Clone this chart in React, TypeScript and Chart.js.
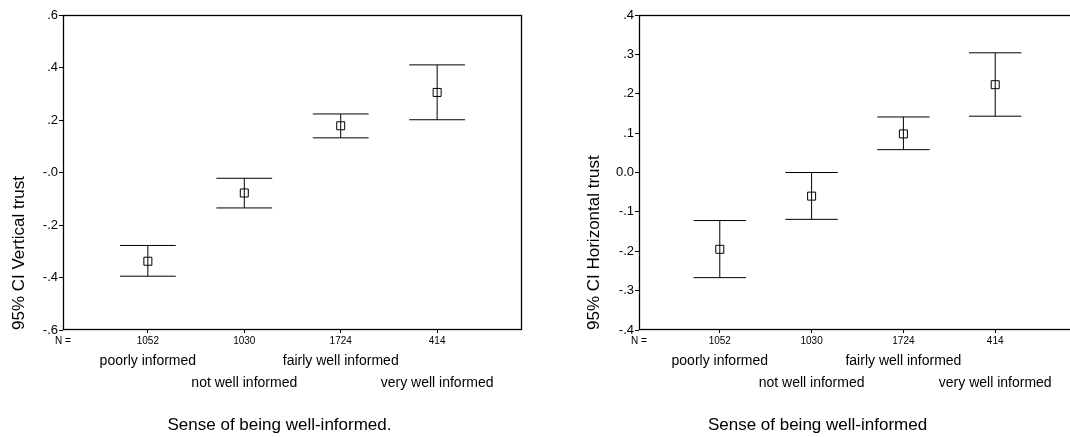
import React, { useEffect, useRef } from "react";
import { Chart, registerables } from "chart.js";

Chart.register(...registerables);

// ---------- data ----------
const categories = ["poorly informed", "not well informed", "fairly well informed", "very well informed"];
const nCounts = [1052, 1030, 1724, 414];
const nLabel = "N =";

const verticalMean = [-0.338, -0.078, 0.178, 0.305];
const verticalUpper = [-0.278, -0.022, 0.223, 0.41];
const verticalLower = [-0.395, -0.135, 0.132, 0.201];
const verticalTicks = [-0.6, -0.4, -0.2, 0, 0.2, 0.4, 0.6];
const verticalTickLabels = ["-.6", "-.4", "-.2", "-.0", ".2", ".4", ".6"];
const verticalYTitle = "95% CI Vertical trust";
const verticalXTitle = "Sense of being well-informed.";

const horizontalMean = [-0.195, -0.06, 0.098, 0.223];
const horizontalUpper = [-0.122, 0.0, 0.141, 0.304];
const horizontalLower = [-0.267, -0.119, 0.058, 0.143];
const horizontalTicks = [-0.4, -0.3, -0.2, -0.1, 0, 0.1, 0.2, 0.3, 0.4];
const horizontalTickLabels = ["-.4", "-.3", "-.2", "-.1", "0.0", ".1", ".2", ".3", ".4"];
const horizontalYTitle = "95% CI Horizontal trust";
const horizontalXTitle = "Sense of being well-informed";

// ---------- styling ----------
const FONT = "'Liberation Sans', Arial, Helvetica, sans-serif";
const X_MIN = -0.88;
const X_MAX = 3.88;

const framePlugin = {
  id: "frame",
  afterDraw(chart: any) {
    const { ctx, chartArea } = chart;
    const { left, top, right, bottom } = chartArea;
    ctx.save();
    ctx.strokeStyle = "#000";
    ctx.lineWidth = 1.3;
    ctx.strokeRect(left + 0.5, top + 0.5, right - left - 1, bottom - top - 1);
    ctx.restore();
  },
};

const captionPlugin = {
  id: "caption",
  afterDraw(chart: any, _args: any, opts: any) {
    const { ctx, chartArea } = chart;
    ctx.save();
    ctx.fillStyle = "#000";
    ctx.font = `17px ${FONT}`;
    ctx.textAlign = "center";
    ctx.textBaseline = "middle";
    ctx.fillText(opts.text, chartArea.left + opts.dx, chartArea.bottom + opts.dy);
    ctx.restore();
  },
};

interface PanelSpec {
  mean: number[];
  upper: number[];
  lower: number[];
  yMin: number;
  yMax: number;
  yTicks: number[];
  yTickLabels: string[];
  yTitle: string;
  xTitle: string;
  capRadius: number;
  yAxisWidth: number;
  padRight: number;
  captionDx: number;
}

const noSidePadding = (s: any) => {
  s.paddingLeft = 0;
  s.paddingRight = 0;
};

function makeConfig(p: PanelSpec): any {
  const whisker: any[] = [];
  const caps: any[] = [];
  const means: any[] = [];
  categories.forEach((_, i) => {
    whisker.push({ x: i, y: p.lower[i] }, { x: i, y: p.upper[i] }, { x: i, y: null });
    caps.push({ x: i, y: p.upper[i] }, { x: i, y: p.lower[i] });
    means.push({ x: i, y: p.mean[i] });
  });

  return {
    type: "scatter",
    data: {
      datasets: [
        {
          type: "scatter",
          data: means,
          pointStyle: "rect",
          pointRadius: 5.66,
          borderColor: "#000",
          backgroundColor: "rgba(0,0,0,0)",
          borderWidth: 1,
          order: 0,
        },
        {
          type: "scatter",
          data: caps,
          pointStyle: "line",
          pointRadius: p.capRadius,
          borderColor: "#000",
          borderWidth: 1,
          order: 1,
        },
        {
          type: "line",
          data: whisker,
          borderColor: "#000",
          borderWidth: 1,
          pointRadius: 0,
          spanGaps: false,
          fill: false,
          order: 2,
        },
      ],
    },
    options: {
      animation: false,
      responsive: false,
      events: [],
      layout: { autoPadding: false, padding: { top: 15, left: 0, right: p.padRight, bottom: 41.2 } },
      plugins: {
        legend: { display: false },
        tooltip: { enabled: false },
        caption: { text: p.xTitle, dx: p.captionDx, dy: 95.7 },
      },
      scales: {
        x: {
          type: "linear",
          position: "bottom",
          min: X_MIN,
          max: X_MAX,
          weight: 0,
          afterBuildTicks: (s: any) => {
            s.ticks = [X_MIN, ...categories.map((_, i) => i)].map((v) => ({ value: v }));
          },
          afterFit: noSidePadding,
          ticks: {
            autoSkip: false,
            maxRotation: 0,
            minRotation: 0,
            padding: 2,
            color: "#000",
            font: { size: 10, family: FONT, lineHeight: 1.2 },
            callback: (_v: any, i: number) => (i === 0 ? nLabel : String(nCounts[i - 1])),
          },
          grid: {
            display: true,
            drawOnChartArea: false,
            drawTicks: true,
            tickLength: 3,
            color: (c: any) => (c.index === 0 ? "rgba(0,0,0,0)" : "#000"),
          },
          border: { display: false },
        },
        x2: {
          type: "linear",
          position: "bottom",
          min: X_MIN,
          max: X_MAX,
          weight: 1,
          afterBuildTicks: (s: any) => {
            s.ticks = categories.map((_, i) => ({ value: i }));
          },
          afterFit: noSidePadding,
          ticks: {
            autoSkip: false,
            maxRotation: 0,
            minRotation: 0,
            padding: 1.6,
            color: "#000",
            font: { size: 14, family: FONT, lineHeight: 1.557 },
            callback: (_v: any, i: number) => (i % 2 === 0 ? [categories[i]] : ["", categories[i]]),
          },
          grid: { display: false, drawTicks: false },
          border: { display: false },
        },
        y: {
          type: "linear",
          position: "left",
          min: p.yMin,
          max: p.yMax,
          afterBuildTicks: (s: any) => {
            s.ticks = p.yTicks.map((v) => ({ value: v }));
          },
          afterFit: (s: any) => {
            s.width = p.yAxisWidth;
            s.paddingTop = 0;
            s.paddingBottom = 0;
          },
          ticks: {
            padding: 1,
            color: "#000",
            font: { size: 13, family: FONT },
            callback: (_v: any, i: number) => p.yTickLabels[i],
          },
          grid: {
            display: true,
            drawOnChartArea: false,
            drawTicks: true,
            tickLength: 4,
            color: "#000",
          },
          border: { display: false },
          title: {
            display: true,
            text: p.yTitle,
            align: "start",
            color: "#000",
            font: { size: 17, family: FONT, lineHeight: 1.2 },
            padding: { top: 8.8, bottom: 0 },
          },
        },
      },
    },
    plugins: [framePlugin, captionPlugin],
  };
}

function Panel({ spec, left, width }: { spec: PanelSpec; left: number; width: number }) {
  const ref = useRef<HTMLCanvasElement | null>(null);
  useEffect(() => {
    if (!ref.current) return;
    const chart = new Chart(ref.current, makeConfig(spec));
    return () => chart.destroy();
  }, [spec]);
  return (
    <canvas
      ref={ref}
      width={width}
      height={437}
      style={{ position: "absolute", left, top: 0, width, height: 437 }}
    />
  );
}

const leftSpec: PanelSpec = {
  mean: verticalMean,
  upper: verticalUpper,
  lower: verticalLower,
  yMin: -0.6,
  yMax: 0.6,
  yTicks: verticalTicks,
  yTickLabels: verticalTickLabels,
  yTitle: verticalYTitle,
  xTitle: verticalXTitle,
  capRadius: 27.9,
  yAxisWidth: 63,
  padRight: 18,
  captionDx: 216.5,
};

const rightSpec: PanelSpec = {
  mean: horizontalMean,
  upper: horizontalUpper,
  lower: horizontalLower,
  yMin: -0.4,
  yMax: 0.4,
  yTicks: horizontalTicks,
  yTickLabels: horizontalTickLabels,
  yTitle: horizontalYTitle,
  xTitle: horizontalXTitle,
  capRadius: 26.2,
  yAxisWidth: 64,
  padRight: 0,
  captionDx: 178.5,
};

export default function App() {
  return (
    <div
      style={{
        position: "fixed",
        left: 0,
        top: 0,
        width: 1070,
        height: 437,
        overflow: "hidden",
        background: "#fff",
      }}
    >
      <Panel spec={leftSpec} left={0} width={540} />
      <Panel spec={rightSpec} left={575} width={501} />
    </div>
  );
}
